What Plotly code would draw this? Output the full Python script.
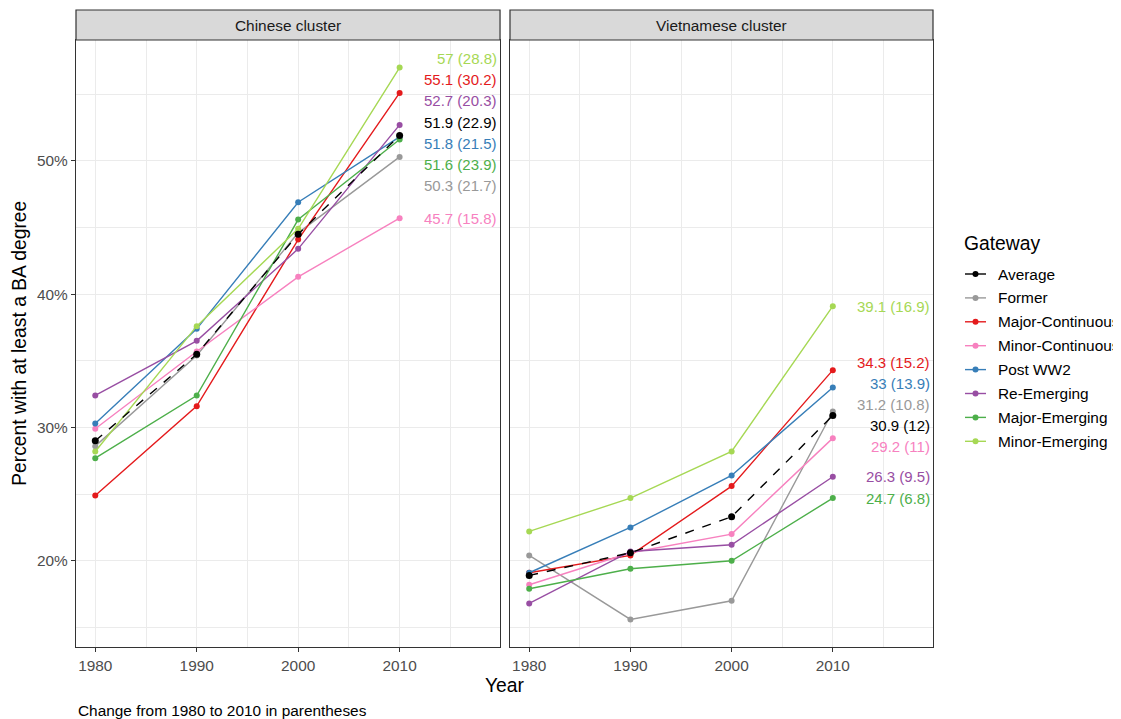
import plotly.graph_objects as go

# ---------------- data ----------------
years = [1980, 1990, 2000, 2010]
gateways = ["Average", "Former", "Major-Continuous", "Minor-Continuous",
            "Post WW2", "Re-Emerging", "Major-Emerging", "Minor-Emerging"]
clusters = ["Chinese cluster", "Vietnamese cluster"]
y_tick_vals = [20, 30, 40, 50]
y_tick_labels = ["20%", "30%", "40%", "50%"]
x_tick_labels = ["1980", "1990", "2000", "2010"]

chinese_average = [29.0, 35.5, 44.5, 51.9]
chinese_former = [28.6, 35.4, 44.6, 50.3]
chinese_major_continuous = [24.9, 31.6, 44.1, 55.1]
chinese_minor_continuous = [29.9, 35.7, 41.3, 45.7]
chinese_post_ww2 = [30.3, 37.4, 46.9, 51.8]
chinese_re_emerging = [32.4, 36.5, 43.4, 52.7]
chinese_major_emerging = [27.7, 32.4, 45.6, 51.6]
chinese_minor_emerging = [28.2, 37.6, 44.9, 57.0]

vietnamese_average = [18.9, 20.6, 23.3, 30.9]
vietnamese_former = [20.4, 15.6, 17.0, 31.2]
vietnamese_major_continuous = [19.1, 20.4, 25.6, 34.3]
vietnamese_minor_continuous = [18.2, 20.6, 22.0, 29.2]
vietnamese_post_ww2 = [19.1, 22.5, 26.4, 33.0]
vietnamese_re_emerging = [16.8, 20.7, 21.2, 26.3]
vietnamese_major_emerging = [17.9, 19.4, 20.0, 24.7]
vietnamese_minor_emerging = [22.2, 24.7, 28.2, 39.1]

caption = "Change from 1980 to 2010 in parentheses"
legend_title = "Gateway"

# ---------------- styling ----------------
colors = {
    "Average": "#000000",
    "Former": "#999999",
    "Major-Continuous": "#E41A1C",
    "Minor-Continuous": "#F781BF",
    "Post WW2": "#377EB8",
    "Re-Emerging": "#984EA3",
    "Major-Emerging": "#4DAF4A",
    "Minor-Emerging": "#A6D854",
}
FONT = "Liberation Sans, Arial, sans-serif"
SMALL = 15.4
LARGE = 19.3
LABEL = 15.0

panel_data = {
    "Chinese cluster": dict(zip(gateways, [
        chinese_average, chinese_former, chinese_major_continuous,
        chinese_minor_continuous, chinese_post_ww2, chinese_re_emerging,
        chinese_major_emerging, chinese_minor_emerging])),
    "Vietnamese cluster": dict(zip(gateways, [
        vietnamese_average, vietnamese_former, vietnamese_major_continuous,
        vietnamese_minor_continuous, vietnamese_post_ww2, vietnamese_re_emerging,
        vietnamese_major_emerging, vietnamese_minor_emerging])),
}


def repel(values, gap):
    """Spread label positions so neighbours are at least `gap` apart,
    keeping each overlapping cluster centred on its mean."""
    order = sorted(range(len(values)), key=lambda i: values[i])
    groups = [[i] for i in order]

    def positions(g):
        c = sum(values[i] for i in g) / len(g)
        m = len(g)
        return [c + (k - (m - 1) / 2) * gap for k in range(m)]

    changed = True
    while changed:
        changed = False
        for j in range(len(groups) - 1):
            lo = positions(groups[j])[-1]
            hi = positions(groups[j + 1])[0]
            if hi - lo < gap - 1e-9:
                groups[j] = groups[j] + groups[j + 1]
                del groups[j + 1]
                changed = True
                break
    out = [0.0] * len(values)
    for g in groups:
        for i, p in zip(g, positions(g)):
            out[i] = p
    return out


def fmt(v):
    return f"{round(v, 1):g}"


fig = go.Figure()
draw_order = gateways[1:] + ["Average"]
annotations = []
shapes = []

for p, cl in enumerate(clusters):
    xa = "x" if p == 0 else "x2"
    ya = "y" if p == 0 else "y2"
    for g in draw_order:
        vals = panel_data[cl][g]
        fig.add_trace(go.Scatter(
            x=years, y=vals, mode="lines+markers", xaxis=xa, yaxis=ya,
            line=dict(color=colors[g], width=1.4,
                      dash="dash" if g == "Average" else "solid"),
            marker=dict(color=colors[g], size=7 if g == "Average" else 6),
            showlegend=False, hoverinfo="skip", name=g))
    ends = [panel_data[cl][g][-1] for g in gateways]
    label_y = repel(ends, 1.58)
    for g, ly in zip(gateways, label_y):
        vals = panel_data[cl][g]
        annotations.append(dict(
            x=2019.8, y=ly, xref=xa, yref=ya, xanchor="right", yanchor="middle",
            text=f"{fmt(vals[-1])} ({fmt(vals[-1] - vals[0])})", showarrow=False,
            font=dict(color=colors[g], size=LABEL, family=FONT)))

# ---------------- layout ----------------
PLOT_L, PLOT_B, PLOT_W, PLOT_H = 76, 647, 857, 637  # page pixels of the plot area


def px_x(v):
    return (v - PLOT_L) / PLOT_W


def px_y(v):
    return (PLOT_B - v) / PLOT_H


x_dom = [[0.0, 0.4948], [0.5064, 1.0]]
y_dom = [0.0, 0.9529]
x_range = [1978.1, 2019.9]
y_range = [13.53, 59.07]

axis_common = dict(
    showgrid=True, gridcolor="#EBEBEB", gridwidth=1.3, zeroline=False,
    showline=True, mirror=True, linecolor="#333333", linewidth=1.2,
    ticks="outside", ticklen=4, tickwidth=1, tickcolor="#333333",
    tickfont=dict(size=SMALL, color="#4D4D4D", family=FONT),
)

xaxis_cfg = dict(axis_common, range=x_range, tickmode="array",
                 tickvals=years, ticktext=x_tick_labels,
                 minor=dict(tickmode="array", tickvals=[1985, 1995, 2005, 2015],
                            showgrid=True, gridcolor="#EBEBEB", gridwidth=0.7,
                            ticks=""))
yaxis_cfg = dict(axis_common, range=y_range, domain=y_dom, tickmode="array",
                 tickvals=y_tick_vals, ticktext=y_tick_labels,
                 minor=dict(tickmode="array", tickvals=[15, 25, 35, 45, 55],
                            showgrid=True, gridcolor="#EBEBEB", gridwidth=0.7,
                            ticks=""))

for p, cl in enumerate(clusters):
    shapes.append(dict(type="rect", xref="paper", yref="paper",
                       x0=x_dom[p][0], x1=x_dom[p][1], y0=y_dom[1], y1=1.0,
                       fillcolor="#D9D9D9", line=dict(color="#333333", width=1.2),
                       layer="above"))
    annotations.append(dict(x=(x_dom[p][0] + x_dom[p][1]) / 2, y=(y_dom[1] + 1.0) / 2,
                            xref="paper", yref="paper", text=cl, showarrow=False,
                            xanchor="center", yanchor="middle",
                            font=dict(size=SMALL, color="#1A1A1A", family=FONT)))

annotations += [
    dict(x=0.5006, y=-0.060, xref="paper", yref="paper", text="Year",
         showarrow=False, xanchor="center", yanchor="middle",
         font=dict(size=LARGE, color="#000000", family=FONT)),
    dict(x=-0.0653, y=0.476, xref="paper", yref="paper",
         text="Percent with at least a BA degree", textangle=-90,
         showarrow=False, xanchor="center", yanchor="middle",
         font=dict(size=LARGE, color="#000000", family=FONT)),
    dict(x=0.0, y=-0.099, xref="paper", yref="paper", text=caption,
         showarrow=False, xanchor="left", yanchor="middle",
         font=dict(size=SMALL, color="#000000", family=FONT)),
    dict(x=px_x(962), y=px_y(244), xref="paper", yref="paper", text=legend_title,
         showarrow=False, xanchor="left", yanchor="middle",
         font=dict(size=LARGE, color="#000000", family=FONT)),
]

# legend key (line + point + label), drawn in page pixels
LEG_X0, LEG_X1, LEG_TEXT, LEG_Y0, LEG_STEP = 965, 986, 996, 274, 23.9
for i, g in enumerate(gateways):
    yy = px_y(LEG_Y0 + i * LEG_STEP)
    shapes.append(dict(type="line", xref="paper", yref="paper",
                       x0=px_x(LEG_X0), x1=px_x(LEG_X1), y0=yy, y1=yy,
                       line=dict(color=colors[g], width=1.4)))
    shapes.append(dict(type="circle", xref="paper", yref="paper",
                       xsizemode="pixel", ysizemode="pixel",
                       xanchor=px_x((LEG_X0 + LEG_X1) / 2), yanchor=yy,
                       x0=-3, x1=3, y0=-3, y1=3,
                       fillcolor=colors[g], line=dict(width=0)))
    annotations.append(dict(x=px_x(LEG_TEXT), y=yy, xref="paper", yref="paper",
                            text=g, showarrow=False, xanchor="left", yanchor="middle",
                            font=dict(size=SMALL, color="#000000", family=FONT)))

# the page body adds an 8px offset, so the figure is 8px smaller and margins shifted
fig.update_layout(
    width=1113, height=711,
    margin=dict(l=68, r=188, t=2, b=72, autoexpand=False),
    paper_bgcolor="white", plot_bgcolor="white",
    font=dict(family=FONT, color="#000000"),
    xaxis=dict(xaxis_cfg, domain=x_dom[0], anchor="y"),
    xaxis2=dict(xaxis_cfg, domain=x_dom[1], anchor="y2"),
    yaxis=dict(yaxis_cfg, anchor="x"),
    yaxis2=dict(yaxis_cfg, anchor="x2", matches="y", showticklabels=False, ticks=""),
    shapes=shapes,
    annotations=annotations,
    showlegend=False,
)

fig.write_html("out.html")
